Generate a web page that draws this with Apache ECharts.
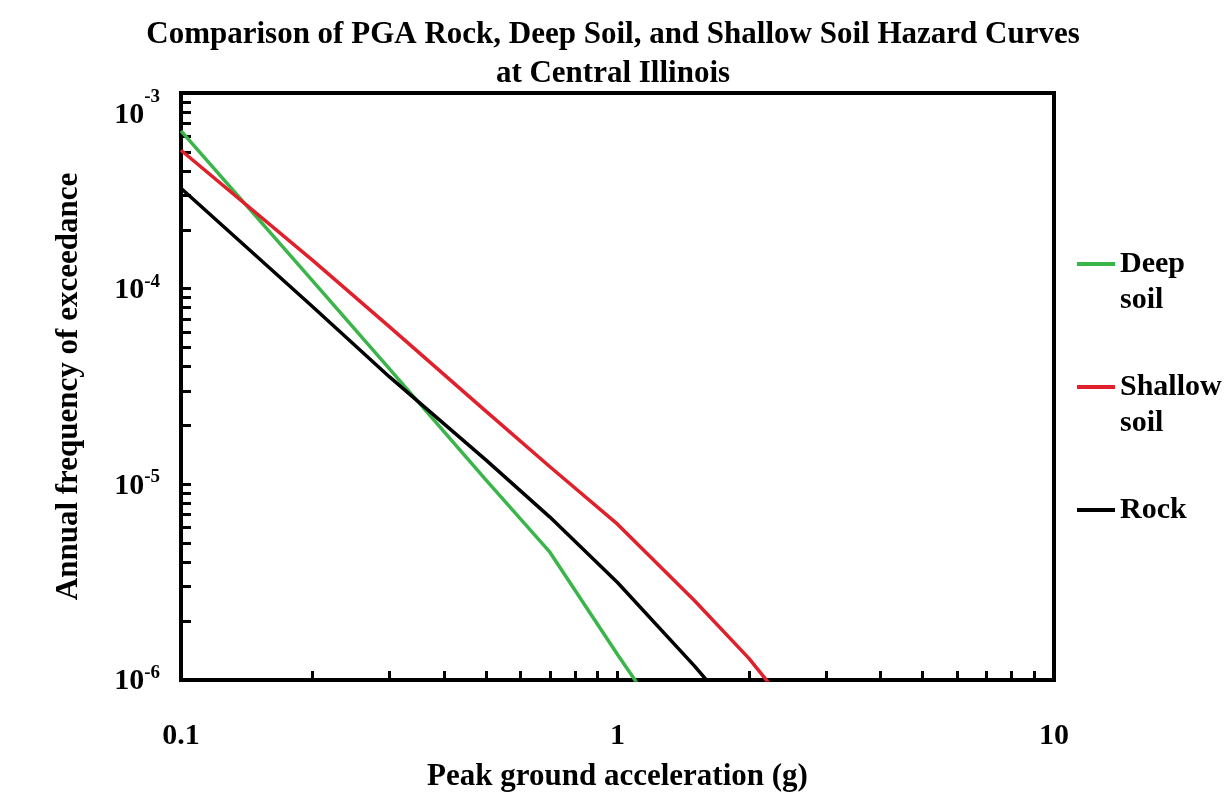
<!DOCTYPE html>
<html>
<head>
<meta charset="utf-8">
<script src="https://cdn.jsdelivr.net/npm/echarts@6/dist/echarts.min.js"></script>
<style>
  html, body { margin: 0; padding: 0; background: #fff; }
  #chart { width: 1228px; height: 797px; }
</style>
</head>
<body>
<div id="chart"></div>
<script>
// Peak ground acceleration (g) sample points
const pga = [0.1, 0.2, 0.3, 0.5, 0.7, 1.0, 1.5, 2.0, 3.0];
// Annual frequency of exceedance for each site condition
const deepSoil    = [6.4e-4, 1.10e-4, 3.9e-5, 1.05e-5, 4.5e-6, 1.35e-6, 3.6e-7, null, null];
const shallowSoil = [5.1e-4, 1.40e-4, 6.4e-5, 2.36e-5, 1.23e-5, 6.26e-6, 2.55e-6, 1.29e-6, 4.2e-7];
const rock        = [3.26e-4, 8.1e-5, 3.55e-5, 1.33e-5, 6.8e-6, 3.15e-6, 1.18e-6, 5.6e-7, null];

// Tick positions
const xMajorTicks = [0.1, 1, 10];
const xMinorTicks = [0.1, 0.2, 0.3, 0.4, 0.5, 0.6, 0.7, 0.8, 0.9, 1, 2, 3, 4, 5, 6, 7, 8, 9, 10];
const yMajorTicks = [1e-6, 1e-5, 1e-4, 1e-3];
const yMinorTicks = [];
[1e-6, 1e-5, 1e-4].forEach(d => { for (let k = 1; k <= 9; k++) yMinorTicks.push(+(d * k).toPrecision(3)); });
yMinorTicks.push(1e-3);

// Legend entries (wrapped onto two lines where needed)
const seriesNames = ['Deep\nsoil', 'Shallow\nsoil', 'Rock'];
const seriesColors = ['#39B54A', '#E0202A', '#000000'];

const FONT = '"Liberation Serif", "Times New Roman", serif';

function pairs(xs, ys) {
  const out = [];
  xs.forEach((x, i) => { if (ys[i] != null) out.push([x, ys[i]]); });
  return out;
}

const chart = echarts.init(document.getElementById('chart'), null, { renderer: 'canvas' });

const option = {
  backgroundColor: '#fff',
  animation: false,
  title: {
    text: 'Comparison of PGA Rock, Deep Soil, and Shallow Soil Hazard Curves\nat Central Illinois',
    left: 608,
    textAlign: 'center',
    top: 10,
    textStyle: { fontFamily: FONT, fontWeight: 'bold', fontSize: 31, lineHeight: 39, color: '#000' }
  },
  grid: {
    left: 181, top: 93, right: 174, bottom: 113,
    show: true, borderColor: '#000', borderWidth: 4, backgroundColor: 'transparent'
  },
  legend: {
    orient: 'vertical',
    left: 1077,
    top: 210,
    padding: 0,
    itemGap: 15,
    itemWidth: 38,
    itemHeight: 4,
    icon: 'rect',
    // first line of each entry sits level with its swatch
    formatter: name => {
      const lines = name.split('\n');
      return lines.length > 1 ? ' \n' + name : ' \n' + name + '\n ';
    },
    textStyle: { fontFamily: FONT, fontWeight: 'bold', fontSize: 30, lineHeight: 36, color: '#000' },
    data: seriesNames
  },
  xAxis: {
    type: 'log',
    logBase: 10,
    min: 0.1,
    max: 10,
    name: 'Peak ground acceleration (g)',
    nameLocation: 'middle',
    nameGap: 81,
    nameTextStyle: { fontFamily: FONT, fontWeight: 'bold', fontSize: 31, color: '#000' },
    axisLine: { show: true, lineStyle: { color: '#000', width: 4 } },
    axisTick: { show: true, inside: true, length: 9, lineStyle: { color: '#000', width: 3 }, customValues: xMinorTicks },
    minorTick: { show: false },
    splitLine: { show: false },
    axisLabel: {
      customValues: xMajorTicks,
      margin: 41,
      fontFamily: FONT, fontWeight: 'bold', fontSize: 30, color: '#000',
      formatter: v => {
        const e = Math.round(Math.log10(v));
        return e < 0 ? '0.1' : String(Math.pow(10, e));
      }
    }
  },
  yAxis: {
    type: 'log',
    logBase: 10,
    min: 1e-6,
    max: 1e-3,
    name: 'Annual frequency of exceedance',
    nameLocation: 'middle',
    nameGap: 97,
    nameTextStyle: { fontFamily: FONT, fontWeight: 'bold', fontSize: 31, color: '#000' },
    axisLine: { show: true, lineStyle: { color: '#000', width: 4 } },
    axisTick: { show: true, inside: true, length: 10, lineStyle: { color: '#000', width: 3 }, customValues: yMinorTicks },
    minorTick: { show: false },
    splitLine: { show: false },
    axisLabel: {
      customValues: yMajorTicks,
      margin: 21,
      formatter: v => {
        const e = Math.round(Math.log10(v));
        return e === -3 ? '{bt|10}{st|' + e + '}' : '{b|10}{s|' + e + '}';
      },
      rich: {
        b:  { fontFamily: FONT, fontWeight: 'bold', fontSize: 30, color: '#000', verticalAlign: 'bottom' },
        s:  { fontFamily: FONT, fontWeight: 'bold', fontSize: 19, color: '#000', verticalAlign: 'top', padding: [0, 0, 14, 0] },
        bt: { fontFamily: FONT, fontWeight: 'bold', fontSize: 30, color: '#000', verticalAlign: 'bottom', padding: [44, 0, 0, 0] },
        st: { fontFamily: FONT, fontWeight: 'bold', fontSize: 19, color: '#000', verticalAlign: 'top', padding: [32, 0, 0, 0] }
      }
    }
  },
  series: [deepSoil, shallowSoil, rock].map((vals, i) => ({
    name: seriesNames[i],
    type: 'line',
    symbol: 'none',
    clip: true,
    lineStyle: { color: seriesColors[i], width: 3.5 },
    itemStyle: { color: seriesColors[i] },
    data: pairs(pga, vals)
  }))
};

chart.setOption(option);
</script>
</body>
</html>
